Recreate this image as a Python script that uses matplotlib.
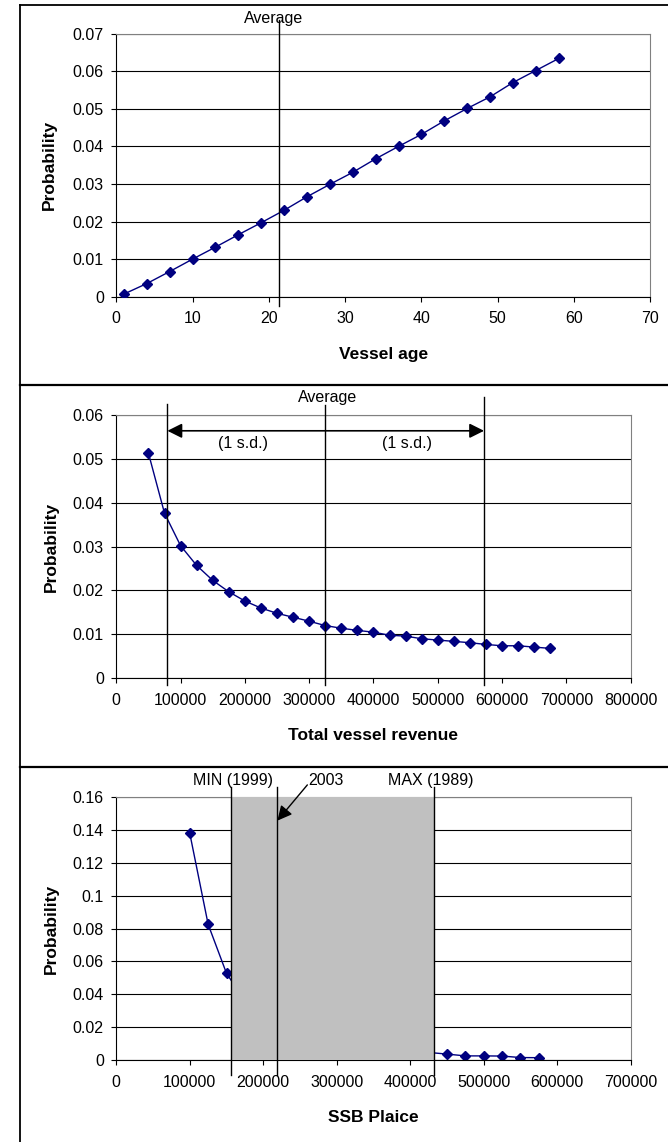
import numpy as np
import matplotlib
matplotlib.use('Agg')
import matplotlib.pyplot as plt
from matplotlib.lines import Line2D

plt.rcParams['font.family'] = ['Liberation Sans', 'DejaVu Sans']

# panel 1: vessel age
age_x = [1, 4, 7, 10, 13, 16, 19, 22, 25, 28, 31, 34, 37, 40, 43, 46, 49, 52, 55, 58]
age_p = [0.0007, 0.0035, 0.0067, 0.0100, 0.0132, 0.0165, 0.0197, 0.0230, 0.0266, 0.0299,
         0.0331, 0.0367, 0.0400, 0.0432, 0.0468, 0.0501, 0.0532, 0.0570, 0.0602, 0.0634]
age_avg = 21.3

# panel 2: total vessel revenue
rev_x = [50000, 75000, 100000, 125000, 150000, 175000, 200000, 225000, 250000, 275000,
         300000, 325000, 350000, 375000, 400000, 425000, 450000, 475000, 500000, 525000,
         550000, 575000, 600000, 625000, 650000, 675000]
rev_p = [0.0513, 0.0376, 0.0302, 0.0257, 0.0223, 0.0197, 0.0176, 0.0160, 0.0148, 0.0139,
         0.0130, 0.0120, 0.0114, 0.0109, 0.0105, 0.0098, 0.0096, 0.0090, 0.0087, 0.0084,
         0.0081, 0.0077, 0.0074, 0.0074, 0.0071, 0.0068]
rev_lo, rev_avg, rev_hi = 79500, 325000, 572000

# panel 3: SSB plaice
ssb_x = [100000, 125000, 150000, 175000, 200000, 225000, 250000, 275000, 300000, 325000,
         350000, 375000, 400000, 425000, 450000, 475000, 500000, 525000, 550000, 575000]
ssb_p = [0.1379, 0.0825, 0.0527, 0.0360, 0.0260, 0.0200, 0.0160, 0.0130, 0.0110, 0.0090,
         0.0080, 0.0070, 0.0055, 0.0046, 0.0036, 0.0025, 0.0025, 0.0024, 0.0015, 0.0014]
ssb_min, ssb_2003, ssb_max = 156500, 219200, 432000

NAVY = '#000080'
FS = 11.5

fig = plt.figure(figsize=(6.68, 11.42), dpi=100)


def style_axes(ax, xticks, yticks, ylabels, xlabel):
    ax.set_xticks(xticks)
    ax.set_xticklabels([str(int(t)) for t in xticks])
    ax.set_yticks(yticks)
    ax.set_yticklabels(ylabels)
    ax.set_xlim(xticks[0], xticks[-1])
    ax.set_ylim(yticks[0], yticks[-1])
    ax.tick_params(axis='both', direction='out', length=3.5, width=0.8, labelsize=FS)
    ax.tick_params(axis='x', pad=7)
    ax.tick_params(axis='y', pad=5.5)
    ax.yaxis.grid(True, color='black', lw=0.8)
    ax.set_axisbelow(True)
    for s in ['top', 'right']:
        ax.spines[s].set_color('#808080')
    for s in ['left', 'bottom']:
        ax.spines[s].set_color('black')
    ax.set_ylabel('Probability', fontsize=12.5, fontweight='bold')
    ax.yaxis.set_label_coords(-0.112, 0.5)
    ax.set_xlabel(xlabel, fontsize=12.5, fontweight='bold')
    ax.xaxis.set_label_coords(0.5, -0.19)
    ax.xaxis.label.set_va('top')


def vline(ax, x, ymin, ymax, z=4):
    ax.axvline(x, ymin=ymin, ymax=ymax, color='black', lw=1, clip_on=False, zorder=z)


def ytext(ax, x, yfrac, s):
    ax.text(x, yfrac, s, transform=ax.get_xaxis_transform(), ha='center', va='center',
            fontsize=FS)


# ---- panel 1
ax1 = fig.add_axes([0.1741, 0.7402, 0.7993, 0.2303])
ax1.plot(age_x, age_p, color=NAVY, lw=1, marker='D', ms=5, zorder=3)
style_axes(ax1, list(range(0, 71, 10)), [i / 100 for i in range(0, 8)],
           ['0'] + ['0.0%d' % i for i in range(1, 8)], 'Vessel age')
vline(ax1, age_avg, -0.035, 1.052)
ytext(ax1, 20.6, 1.059, 'Average')

# ---- panel 2
ax2 = fig.add_axes([0.1741, 0.4061, 0.7700, 0.2305])
ax2.plot(rev_x, rev_p, color=NAVY, lw=1, marker='D', ms=5, zorder=3)
style_axes(ax2, list(range(0, 800001, 100000)), [i / 100 for i in range(0, 7)],
           ['0'] + ['0.0%d' % i for i in range(1, 7)], 'Total vessel revenue')
vline(ax2, rev_lo, -0.027, 1.042)
vline(ax2, rev_avg, -0.027, 1.038)
vline(ax2, rev_hi, -0.027, 1.067)
ytext(ax2, 329300, 1.065, 'Average')
ax2.annotate('', xy=(rev_lo, 0.0564), xytext=(rev_hi, 0.0564),
             arrowprops=dict(arrowstyle='<|-|>', color='black', lw=1.2,
                             mutation_scale=22, shrinkA=0, shrinkB=0))
ax2.text(196800, 0.0535, '(1 s.d.)', ha='center', va='center', fontsize=FS)
ax2.text(451700, 0.0535, '(1 s.d.)', ha='center', va='center', fontsize=FS)

# ---- panel 3
ax3 = fig.add_axes([0.1741, 0.0718, 0.7700, 0.2303])
ax3.plot(ssb_x, ssb_p, color=NAVY, lw=1, marker='D', ms=5, zorder=2)
style_axes(ax3, list(range(0, 700001, 100000)), [i / 100 for i in range(0, 17, 2)],
           ['0', '0.02', '0.04', '0.06', '0.08', '0.1', '0.12', '0.14', '0.16'], 'SSB Plaice')
ax3.axvspan(ssb_min, ssb_max, facecolor='#c0c0c0', edgecolor='none', zorder=3)
vline(ax3, ssb_min, -0.057, 1.038)
vline(ax3, ssb_2003, -0.057, 1.038)
vline(ax3, ssb_max, -0.057, 1.038)
ytext(ax3, 158800, 1.062, 'MIN (1999)')
ytext(ax3, 285400, 1.062, '2003')
ytext(ax3, 428300, 1.062, 'MAX (1989)')
ax3.annotate('', xy=(ssb_2003, 0.1456), xycoords='data',
             xytext=(260000, 1.046), textcoords=ax3.get_xaxis_transform(),
             arrowprops=dict(arrowstyle='-|>', color='black', lw=1,
                             mutation_scale=22, shrinkA=0, shrinkB=0),
             zorder=5)

# ---- panel borders
for y in [0.6629, 0.3284]:
    fig.add_artist(Line2D([0.0299, 1.0], [y, y], color='black', lw=1.6))
fig.add_artist(Line2D([0.0299, 1.0], [0.9956, 0.9956], color='black', lw=1.3))
fig.add_artist(Line2D([0.0299, 0.0299], [0.0, 0.9956], color='black', lw=1.3))

fig.savefig('out.png', dpi=100)
